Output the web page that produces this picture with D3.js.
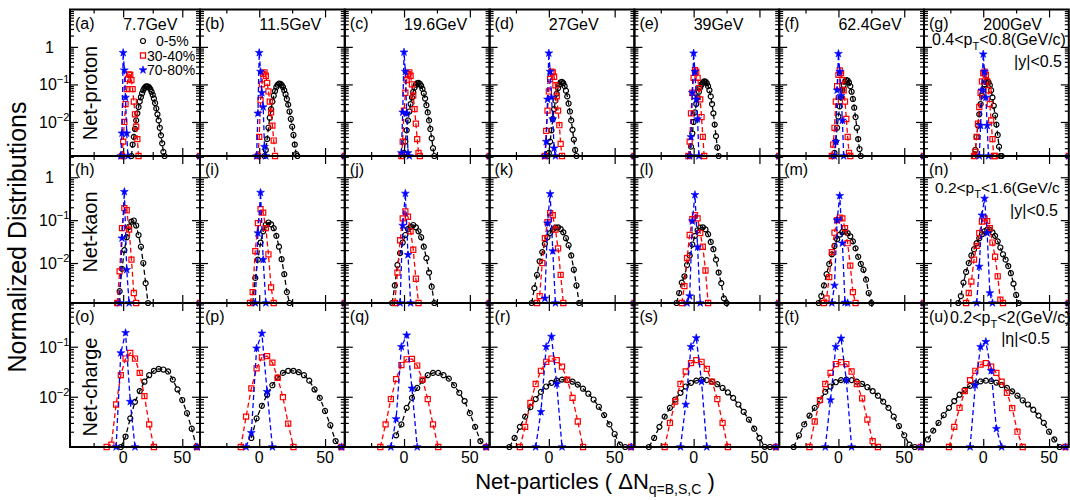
<!DOCTYPE html>
<html>
<head>
<meta charset="utf-8">
<script src="https://cdn.jsdelivr.net/npm/d3@7"></script>
<style>
  body { margin: 0; background: #fff; }
  svg { display: block; }
  text { font-family: "Liberation Sans", Arial, Helvetica, sans-serif; fill: #000; }
</style>
</head>
<body>
<svg id="chart" width="1070" height="500"></svg>
<script>
// ---- labels ----
const energies = ["7.7GeV", "11.5GeV", "19.6GeV", "27GeV", "39GeV", "62.4GeV", "200GeV"];
const particles = ["Net-proton", "Net-kaon", "Net-charge"];
const centralities = ["0-5%", "30-40%", "70-80%"];
const panelTags = [
  ["(a)", "(b)", "(c)", "(d)", "(e)", "(f)", "(g)"],
  ["(h)", "(i)", "(j)", "(k)", "(l)", "(m)", "(n)"],
  ["(o)", "(p)", "(q)", "(r)", "(s)", "(t)", "(u)"]
];
const xTickLabels = [0, 50];
const xMinorTicks = [-25, 25];
const yTickLabels = [[0, -1, -2], [0, -1, -2], [-1, -2]];   // decade exponents
const xRange = [-45, 65];
const yRanges = [[0.00124, 9.9], [0.00117, 3.13], [0.00099, 0.748]];

// ---- distributions: [first ΔN, bin step, normalized values ...] per energy ----
const proton0to5 = [
  [7, 1, [0.001, 0.0025, 0.004, 0.0065, 0.011, 0.017, 0.025, 0.035, 0.046, 0.058, 0.070, 0.080, 0.087, 0.089, 0.088, 0.083, 0.075, 0.064, 0.053, 0.042, 0.032, 0.023, 0.016, 0.011, 0.0070, 0.0044, 0.0027, 0.0016, 0.0009]],
  [4, 1, [0.0008, 0.0018, 0.0035, 0.007, 0.013, 0.022, 0.035, 0.05, 0.067, 0.085, 0.098, 0.105, 0.104, 0.097, 0.085, 0.07, 0.055, 0.041, 0.029, 0.019, 0.012, 0.0075, 0.0045, 0.0025, 0.0014, 0.0008]],
  [-1, 1, [0.0008, 0.0015, 0.003, 0.006, 0.011, 0.019, 0.03, 0.045, 0.063, 0.082, 0.098, 0.108, 0.11, 0.104, 0.092, 0.076, 0.058, 0.042, 0.028, 0.018, 0.011, 0.0065, 0.0037, 0.002, 0.0008]],
  [-1, 1, [0.0008, 0.0015, 0.003, 0.006, 0.012, 0.022, 0.037, 0.057, 0.08, 0.1, 0.114, 0.117, 0.108, 0.09, 0.068, 0.048, 0.031, 0.019, 0.011, 0.0062, 0.0034, 0.0018, 0.0008]],
  [-3, 1, [0.0008, 0.0022, 0.005, 0.01, 0.018, 0.03, 0.045, 0.064, 0.083, 0.1, 0.113, 0.12, 0.118, 0.108, 0.09, 0.07, 0.048, 0.03, 0.017, 0.0085, 0.0042, 0.0021, 0.0009]],
  [-4, 1, [0.0008, 0.0015, 0.003, 0.007, 0.014, 0.026, 0.045, 0.07, 0.097, 0.12, 0.13, 0.127, 0.112, 0.09, 0.064, 0.041, 0.024, 0.0135, 0.007, 0.0035, 0.0019, 0.0009]],
  [-7, 1, [0.0008, 0.0018, 0.004, 0.008, 0.016, 0.03, 0.05, 0.075, 0.1, 0.117, 0.123, 0.115, 0.095, 0.07, 0.045, 0.027, 0.015, 0.0085, 0.0045, 0.0022, 0.001, 0.0006]]
];
const proton30to40 = [
  [-1, 1, [0.0008, 0.003, 0.010, 0.030, 0.075, 0.14, 0.185, 0.18, 0.13, 0.075, 0.035, 0.016, 0.0075, 0.0035, 0.0008]],
  [-1, 1, [0.0008, 0.004, 0.038, 0.10, 0.19, 0.21, 0.17, 0.11, 0.065, 0.035, 0.018, 0.008, 0.0032, 0.0008]],
  [-2, 1, [0.0008, 0.003, 0.02, 0.06, 0.13, 0.19, 0.21, 0.17, 0.1, 0.05, 0.022, 0.009, 0.0035, 0.0015, 0.0007]],
  [-3, 1, [0.0008, 0.0058, 0.02, 0.065, 0.14, 0.22, 0.21, 0.16, 0.095, 0.048, 0.02, 0.0082, 0.0026, 0.0008]],
  [-4, 1, [0.0008, 0.003, 0.017, 0.06, 0.15, 0.24, 0.22, 0.15, 0.08, 0.04, 0.0135, 0.004, 0.0008]],
  [-5, 1, [0.0008, 0.0025, 0.007, 0.035, 0.09, 0.18, 0.235, 0.2, 0.13, 0.07, 0.035, 0.012, 0.004, 0.0015, 0.0008]],
  [-7, 1, [0.0008, 0.0016, 0.004, 0.009, 0.025, 0.06, 0.12, 0.2, 0.22, 0.18, 0.12, 0.07, 0.03, 0.011, 0.0035, 0.0012, 0.0007]]
];
const proton70to80 = [
  [-2, 1, [0.0008, 0.005, 0.70, 0.24, 0.045, 0.005, 0.0008]],
  [-2, 1, [0.0008, 0.017, 0.70, 0.22, 0.06, 0.025, 0.0022, 0.0008]],
  [-2, 1, [0.0015, 0.018, 0.72, 0.22, 0.017, 0.0015, 0.0008]],
  [-3, 1, [0.0008, 0.003, 0.04, 0.68, 0.22, 0.045, 0.012, 0.002, 0.0008]],
  [-3, 1, [0.0008, 0.004, 0.06, 0.68, 0.22, 0.04, 0.012, 0.0008]],
  [-3, 1, [0.0008, 0.003, 0.07, 0.66, 0.22, 0.05, 0.011, 0.0008]],
  [-3, 1, [0.0008, 0.008, 0.07, 0.64, 0.22, 0.045, 0.008, 0.0008]]
];

const kaon0to5 = [
  [-5, 2, [0.0008, 0.0022, 0.0073, 0.02, 0.04, 0.07, 0.092, 0.098, 0.075, 0.045, 0.024, 0.01, 0.0034, 0.0008]],
  [-5, 2, [0.0008, 0.0045, 0.012, 0.03, 0.055, 0.078, 0.088, 0.08, 0.065, 0.043, 0.024, 0.0123, 0.0055, 0.0021, 0.0008]],
  [-9, 2, [0.0008, 0.003, 0.009, 0.017, 0.03, 0.045, 0.062, 0.07, 0.077, 0.068, 0.055, 0.04, 0.024, 0.013, 0.006, 0.0028, 0.0008]],
  [-13, 2, [0.0008, 0.0026, 0.0053, 0.011, 0.018, 0.028, 0.04, 0.05, 0.06, 0.067, 0.068, 0.062, 0.052, 0.038, 0.026, 0.015, 0.007, 0.003, 0.0008]],
  [-13, 2, [0.0008, 0.002, 0.0035, 0.0049, 0.009, 0.015, 0.027, 0.043, 0.058, 0.067, 0.068, 0.061, 0.047, 0.031, 0.021, 0.012, 0.006, 0.0034, 0.0015, 0.0008]],
  [-15, 2, [0.0008, 0.0017, 0.003, 0.0055, 0.0095, 0.016, 0.025, 0.036, 0.046, 0.053, 0.054, 0.05, 0.042, 0.032, 0.022, 0.014, 0.0095, 0.007, 0.0041, 0.002, 0.0008]],
  [-19, 2, [0.0008, 0.0017, 0.0035, 0.0062, 0.01, 0.015, 0.021, 0.029, 0.038, 0.047, 0.055, 0.06, 0.059, 0.052, 0.043, 0.032, 0.023, 0.016, 0.012, 0.0085, 0.0058, 0.0033, 0.0018, 0.0008]]
];
const kaon30to40 = [
  [-5, 2, [0.0008, 0.0064, 0.065, 0.19, 0.17, 0.06, 0.012, 0.002, 0.0008]],
  [-7, 2, [0.0008, 0.0021, 0.019, 0.085, 0.18, 0.15, 0.065, 0.016, 0.0027, 0.0008]],
  [-7, 2, [0.0008, 0.006, 0.034, 0.11, 0.16, 0.12, 0.055, 0.0204, 0.0043, 0.0008]],
  [-9, 2, [0.0008, 0.0017, 0.01, 0.038, 0.09, 0.146, 0.13, 0.06, 0.022, 0.0053, 0.0008]],
  [-9, 2, [0.0008, 0.0029, 0.013, 0.045, 0.105, 0.13, 0.11, 0.05, 0.024, 0.0067, 0.0008]],
  [-11, 2, [0.0008, 0.0015, 0.0047, 0.018, 0.051, 0.1, 0.115, 0.11, 0.065, 0.029, 0.0087, 0.0021, 0.0008]],
  [-13, 2, [0.0008, 0.002, 0.0037, 0.012, 0.025, 0.05, 0.093, 0.11, 0.095, 0.065, 0.03, 0.014, 0.0049, 0.0014, 0.0008]]
];
const kaon70to80 = [
  [-3, 2, [0.0008, 0.038, 0.46, 0.007, 0.0008]],
  [-3, 2, [0.0008, 0.05, 0.44, 0.012, 0.0008]],
  [-3, 2, [0.0008, 0.075, 0.42, 0.0155, 0.0008]],
  [-3, 2, [0.0015, 0.085, 0.41, 0.019, 0.0008]],
  [-5, 2, [0.0008, 0.0017, 0.095, 0.39, 0.0235, 0.0008]],
  [-5, 2, [0.0008, 0.003, 0.1, 0.37, 0.029, 0.0012, 0.0008]],
  [-5, 2, [0.0008, 0.0083, 0.13, 0.32, 0.05, 0.002, 0.0008]]
];

const charge0to5 = [
  [-2, 4, [0.0006, 0.0016, 0.0037, 0.0079, 0.013, 0.02, 0.027, 0.033, 0.036, 0.035, 0.032, 0.022, 0.014, 0.0086, 0.0047, 0.0023, 0.0006]],
  [-6, 4, [0.0015, 0.0037, 0.0066, 0.011, 0.017, 0.024, 0.030, 0.033, 0.033, 0.031, 0.027, 0.021, 0.014, 0.0095, 0.0052, 0.0027, 0.0013, 0.0006]],
  [-6, 4, [0.0017, 0.0028, 0.006, 0.0095, 0.015, 0.021, 0.027, 0.030, 0.030, 0.027, 0.023, 0.017, 0.012, 0.0082, 0.0047, 0.0025, 0.0013, 0.0006]],
  [-30, 4, [0.0006, 0.0015, 0.0025, 0.004, 0.0062, 0.009, 0.0125, 0.016, 0.019, 0.021, 0.022, 0.0215, 0.02, 0.0175, 0.0145, 0.0115, 0.0088, 0.0063, 0.0043, 0.0028, 0.0018, 0.0011, 0.0006]],
  [-34, 4, [0.0006, 0.0015, 0.0025, 0.004, 0.006, 0.0088, 0.012, 0.016, 0.019, 0.021, 0.022, 0.0215, 0.02, 0.0178, 0.015, 0.0122, 0.0095, 0.007, 0.005, 0.0035, 0.0023, 0.0015, 0.001, 0.0006]],
  [-34, 4, [0.0006, 0.0017, 0.0028, 0.0042, 0.006, 0.0085, 0.0125, 0.016, 0.0195, 0.0215, 0.022, 0.0215, 0.02, 0.018, 0.0155, 0.013, 0.0105, 0.008, 0.006, 0.004, 0.0026, 0.0017, 0.0011, 0.0006]],
  [-42, 4, [0.0014, 0.0021, 0.003, 0.0043, 0.006, 0.0082, 0.011, 0.0138, 0.0165, 0.0187, 0.0203, 0.021, 0.0205, 0.0192, 0.0172, 0.015, 0.0128, 0.0105, 0.0085, 0.007, 0.0055, 0.0042, 0.003, 0.002, 0.0014, 0.0008]]
];
const charge30to40 = [
  [-14, 4, [0.0006, 0.0011, 0.007, 0.027, 0.058, 0.075, 0.058, 0.03, 0.0103, 0.0028, 0.0006]],
  [-14, 4, [0.0006, 0.004, 0.0147, 0.037, 0.061, 0.065, 0.048, 0.024, 0.0098, 0.0029, 0.0006]],
  [-18, 4, [0.0006, 0.0028, 0.009, 0.0225, 0.043, 0.056, 0.057, 0.042, 0.022, 0.009, 0.0028, 0.0006]],
  [-22, 4, [0.0006, 0.0025, 0.0075, 0.018, 0.033, 0.05, 0.058, 0.054, 0.04, 0.022, 0.0095, 0.0032, 0.0006]],
  [-22, 4, [0.0006, 0.003, 0.008, 0.018, 0.032, 0.047, 0.054, 0.05, 0.036, 0.02, 0.009, 0.003, 0.0006]],
  [-22, 4, [0.0006, 0.0032, 0.0086, 0.018, 0.03, 0.045, 0.049, 0.045, 0.032, 0.018, 0.0093, 0.0035, 0.0013, 0.0006]],
  [-26, 4, [0.0006, 0.0025, 0.006, 0.013, 0.0215, 0.033, 0.044, 0.047, 0.04, 0.03, 0.02, 0.012, 0.0059, 0.002, 0.0006]]
];
const charge70to80 = [
  [-6, 4, [0.0006, 0.075, 0.19, 0.008, 0.0006]],
  [-10, 4, [0.0006, 0.0019, 0.093, 0.185, 0.0126, 0.0006]],
  [-10, 4, [0.0006, 0.0036, 0.1, 0.17, 0.0147, 0.0006]],
  [-10, 4, [0.0006, 0.005, 0.1, 0.16, 0.018, 0.0006]],
  [-10, 4, [0.0006, 0.007, 0.1, 0.15, 0.02, 0.0006]],
  [-10, 4, [0.0006, 0.0086, 0.1, 0.147, 0.0215, 0.0006]],
  [-10, 4, [0.0006, 0.017, 0.1, 0.126, 0.033, 0.0023, 0.0006]]
];
// overflow bins of the 30-40% and 70-80% classes, at the right edge of each panel
const edgeBins = [65, 65, 62.5];
const edgeValue = 0.0005;

const rowSeries = [
  [proton0to5, proton30to40, proton70to80],
  [kaon0to5, kaon30to40, kaon70to80],
  [charge0to5, charge30to40, charge70to80]
];

// ---- layout ----
const colEdges = [70, 200, 344.8, 489.6, 634.4, 779.2, 924, 1068.8];
const rowEdges = [9.5, 156, 303, 447];
const particleLabelY = [93, 232, 387];

const styles = [
  { color: "#000000", shape: d3.symbolCircle, size: 20, filled: false },
  { color: "#ff0000", shape: d3.symbolSquare, size: 26, filled: false },
  { color: "#0000ff", shape: d3.symbolStar, size: 19, filled: true }
];

const svg = d3.select("#chart");
const defs = svg.append("defs");

function toPoints(entry) {
  const [start, step, vals] = entry;
  return vals.map((v, i) => ({ x: start + i * step, y: v }));
}

function drawPanel(r, c) {
  const x0 = colEdges[c], x1 = colEdges[c + 1];
  const y0 = rowEdges[r], y1 = rowEdges[r + 1];
  const xs = d3.scaleLinear().domain(xRange).range([x0, x1]);
  const ys = d3.scaleLog().domain(yRanges[r]).range([y1, y0]).clamp(true);
  const g = svg.append("g");
  const clipId = `clip-${r}-${c}`;
  defs.append("clipPath").attr("id", clipId).append("rect")
    .attr("x", x0).attr("y", y0 - 10).attr("width", x1 - x0).attr("height", y1 - y0 + 20);

  const mkX = (vals, len, y, orient) => {
    const ax = (orient === "bottom" ? d3.axisBottom(xs) : d3.axisTop(xs))
      .tickValues(vals).tickSize(-len).tickFormat("");
    const a = g.append("g").attr("transform", `translate(0,${y})`).call(ax);
    a.select(".domain").remove();
    a.selectAll("line").attr("stroke", "#000").attr("stroke-width", 1.2);
  };
  mkX(xMinorTicks, 4, y1, "bottom"); mkX(xTickLabels, 8, y1, "bottom");
  mkX(xMinorTicks, 4, y0, "top"); mkX(xTickLabels, 8, y0, "top");

  const allY = ys.ticks().filter(v => v >= yRanges[r][0] && v <= yRanges[r][1]);
  const isDecade = v => Math.abs(Math.log10(v) - Math.round(Math.log10(v))) < 1e-6;
  const yMajor = allY.filter(isDecade), yMinor = allY.filter(v => !isDecade(v));
  const mkY = (vals, len, x, orient) => {
    const ax = (orient === "left" ? d3.axisLeft(ys) : d3.axisRight(ys))
      .tickValues(vals).tickSize(-len).tickFormat("");
    const a = g.append("g").attr("transform", `translate(${x},0)`).call(ax);
    a.select(".domain").remove();
    a.selectAll("line").attr("stroke", "#000").attr("stroke-width", 1.2);
  };
  mkY(yMinor, 4, x0, "left"); mkY(yMajor, 8, x0, "left");
  mkY(yMinor, 4, x1, "right"); mkY(yMajor, 8, x1, "right");

  // series: dashed line then markers, one centrality after another
  const line = d3.line().x(d => xs(d.x)).y(d => ys(d.y));
  rowSeries[r].forEach((series, s) => {
    const st = styles[s];
    const pts = toPoints(series[c]);
    g.append("path").datum(pts).attr("d", line)
      .attr("fill", "none").attr("stroke", st.color)
      .attr("stroke-width", 1.3).attr("stroke-dasharray", "5,3");
    const sym = d3.symbol().type(st.shape).size(st.size);
    const paint = sel => sel.attr("d", sym)
      .attr("transform", d => `translate(${xs(d.x)},${ys(d.y)})`)
      .attr("fill", st.filled ? st.color : "none")
      .attr("stroke", st.color).attr("stroke-width", st.filled ? 0.6 : 1.2);
    g.selectAll(null).data(pts).enter().append("path").call(paint);
    if (s > 0) {
      g.append("g").attr("clip-path", `url(#${clipId})`)
        .selectAll(null).data([{ x: edgeBins[r], y: edgeValue }]).enter().append("path").call(paint);
    }
  });

  // frame
  g.append("rect").attr("x", x0).attr("y", y0).attr("width", x1 - x0).attr("height", y1 - y0)
    .attr("fill", "none").attr("stroke", "#000").attr("stroke-width", 2);

  // tag
  g.append("text").attr("x", x0 + 5).attr("y", y0 + 19).attr("font-size", 16).text(panelTags[r][c]);
  if (r === 0) {
    g.append("text").attr("x", xs(0)).attr("y", y0 + 20).attr("font-size", 16).text(energies[c]);
  }

  // x tick labels on the bottom row
  if (r === 2) {
    xTickLabels.forEach(v => {
      g.append("text").attr("x", xs(v)).attr("y", 463).attr("font-size", 16)
        .attr("text-anchor", "middle").text(v);
    });
  }
  // y tick labels on the first column
  if (c === 0) {
    yTickLabels[r].forEach(e => {
      const y = ys(Math.pow(10, e)) + 6;
      if (e === 0) {
        g.append("text").attr("x", 54).attr("y", y).attr("font-size", 16)
          .attr("text-anchor", "end").text("1");
      } else {
        const t = g.append("text").attr("x", 39).attr("y", y).attr("font-size", 16);
        t.append("tspan").text("10");
        t.append("tspan").attr("dy", -7).attr("font-size", 11).text("\u2212" + (-e));
      }
    });
    g.append("text")
      .attr("transform", `translate(97,${particleLabelY[r]}) rotate(-90)`)
      .attr("text-anchor", "middle").attr("font-size", 20).text(particles[r]);
  }
}

for (let r = 0; r < 3; r++) for (let c = 0; c < 7; c++) drawPanel(r, c);

// legend in the first panel
const legendRows = [41, 55.5, 70];
const legendTextX = [156, 147, 147];
centralities.forEach((name, i) => {
  const st = styles[i];
  svg.append("path").attr("d", d3.symbol().type(st.shape).size(st.size))
    .attr("transform", `translate(143,${legendRows[i]})`)
    .attr("fill", st.filled ? st.color : "none")
    .attr("stroke", st.color).attr("stroke-width", st.filled ? 0.6 : 1.2);
  svg.append("text").attr("x", legendTextX[i]).attr("y", legendRows[i] + 5)
    .attr("font-size", 14).text(name);
});

// kinematic cuts
function cutLabel(x, y, parts, size) {
  const t = svg.append("text").attr("x", x).attr("y", y).attr("font-size", size || 16);
  parts.forEach(p => {
    const sp = t.append("tspan").text(p.t);
    if (p.sub) sp.attr("font-size", 11).attr("dy", 5);
    if (p.up) sp.attr("dy", -5);
  });
  return t;
}
cutLabel(932, 45, [{ t: "0.4<p" }, { t: "T", sub: true }, { t: "<0.8(GeV/c)", up: true }]);
svg.append("text").attr("x", 1062).attr("y", 67).attr("font-size", 16).attr("text-anchor", "end").text("|y|<0.5");
cutLabel(935, 193, [{ t: "0.2<p" }, { t: "T", sub: true }, { t: "<1.6(GeV/c", up: true }], 15.5);
svg.append("text").attr("x", 1058).attr("y", 216).attr("font-size", 16).attr("text-anchor", "end").text("|y|<0.5");
cutLabel(950, 323, [{ t: "0.2<p" }, { t: "T", sub: true }, { t: "<2(GeV/c)", up: true }]);
svg.append("text").attr("x", 1050).attr("y", 344).attr("font-size", 16).attr("text-anchor", "end").text("|\u03b7|<0.5");

// axis titles
svg.append("text").attr("transform", "translate(26,237) rotate(-90)")
  .attr("text-anchor", "middle").attr("font-size", 25).text("Normalized Distributions");
const xt = svg.append("text").attr("x", 595).attr("y", 489).attr("font-size", 22).attr("text-anchor", "middle");
xt.append("tspan").text("Net-particles ( \u0394N");
xt.append("tspan").attr("font-size", 14).attr("dy", 5).text("q=B,S,C");
xt.append("tspan").attr("dy", -5).text(" )");
</script>
</body>
</html>
